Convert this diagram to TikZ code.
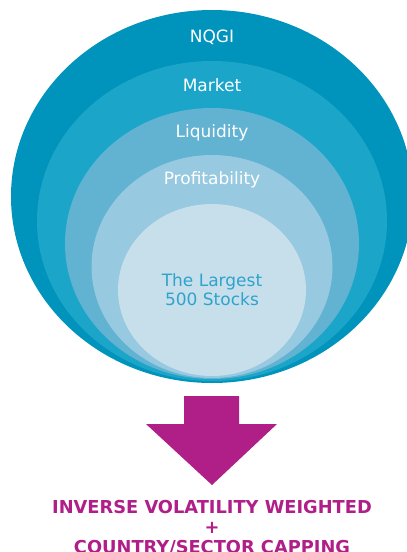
\documentclass[tikz,border=0pt]{standalone}
\usepackage{fontspec}
\setmainfont{DejaVu Sans}
\usepackage{xcolor}
\usetikzlibrary{positioning, shapes.geometric}

\definecolor{ringA}{HTML}{0093BC}
\definecolor{ringB}{HTML}{1BA5C9}
\definecolor{ringC}{HTML}{62B3D2}
\definecolor{ringD}{HTML}{97C9E0}
\definecolor{ringE}{HTML}{C7DFEA}
\definecolor{coretext}{HTML}{2EA3CC}
\definecolor{magenta}{HTML}{B01E88}

\begin{document}
\begin{tikzpicture}[x=1pt, y=-1pt,
    ring/.style={ellipse, inner sep=0pt, outer sep=0pt},
    ringlabel/.style={text=white, font=\fontsize{17}{19}\selectfont},
    corelabel/.style={text=coretext, align=center, font=\fontsize{17}{19}\selectfont},
    result/.style={text=magenta, align=center, font=\bfseries\fontsize{17.8}{20}\selectfont}
  ]
  \useasboundingbox (0,0) rectangle (407,552);
  \clip (0,0) rectangle (407,552);

  % nested screens
  \node[ring, fill=ringA, minimum width=402pt, minimum height=373pt] (nqgi) at (212,196.5) {};
  \node[ring, fill=ringB, minimum width=350pt, minimum height=320pt] (market) at (212,221) {};
  \node[ring, fill=ringC, minimum width=294pt, minimum height=271pt] (liquidity) at (212,243.5) {};
  \node[ring, fill=ringD, minimum width=241pt, minimum height=223pt] (profit) at (212,266.5) {};
  \node[ring, fill=ringE, minimum width=188pt, minimum height=172pt] (largest) at (212,290) {};

  \node[ringlabel, yshift=-27pt] (nqgitext) at (nqgi.north) {NQGI};
  \node[ringlabel, yshift=-24pt] (markettext) at (market.north) {Market};
  \node[ringlabel, yshift=-25pt] (liquiditytext) at (liquidity.north) {Liquidity};
  \node[ringlabel, yshift=-25pt] (profittext) at (profit.north) {Profitability};
  \node[corelabel] (largesttext) at (largest.center) {The Largest\\500 Stocks};

  % arrow down to the weighting step
  \fill[magenta] (184,396) -- (239,396) -- (239,424) -- (277,424)
    -- (212,485) -- (146,424) -- (184,424) -- cycle;

  \node[result] (weighting) at (212,528) {INVERSE VOLATILITY WEIGHTED\\+\\COUNTRY/SECTOR CAPPING};

\end{tikzpicture}
\end{document}
